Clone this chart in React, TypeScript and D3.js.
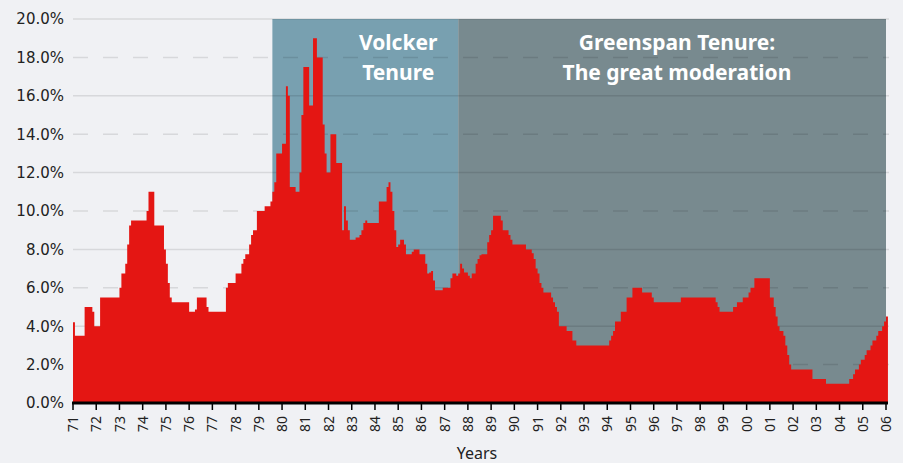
import React from "react";
import * as d3 from "d3";

const changeDates = [
  "1971-01","1971-02","1971-07","1971-11","1971-12","1972-03","1973-01","1973-02","1973-04","1973-05","1973-06","1973-07",
  "1974-03","1974-04","1974-07","1974-12","1975-01","1975-02","1975-03","1975-04","1976-01","1976-04","1976-05","1976-10","1976-11",
  "1977-08","1977-09","1978-01","1978-04","1978-05","1978-06","1978-08","1978-09","1978-10","1978-12",
  "1979-04","1979-07","1979-08","1979-09","1979-10","1980-01","1980-03","1980-04","1980-05","1980-08","1980-10","1980-11","1980-12",
  "1981-03","1981-05","1981-07","1981-10","1981-11","1981-12","1982-02","1982-05","1982-08","1982-09","1982-10","1982-11","1982-12",
  "1983-03","1983-05","1983-06","1983-07","1983-08","1983-09","1984-03","1984-07","1984-08","1984-09","1984-10","1984-11","1984-12",
  "1985-01","1985-02","1985-04","1985-05","1985-08","1985-09","1985-12","1986-03","1986-04","1986-05","1986-06","1986-07","1986-08","1986-12",
  "1987-04","1987-05","1987-07","1987-08","1987-09","1987-10","1987-11","1988-01","1988-02","1988-03","1988-05","1988-06","1988-07","1988-08",
  "1988-11","1988-12","1989-01","1989-02","1989-06","1989-07","1989-10","1989-11","1989-12","1990-07","1990-10","1990-11","1990-12",
  "1991-01","1991-02","1991-03","1991-04","1991-08","1991-09","1991-10","1991-11","1991-12","1992-04","1992-07","1992-09",
  "1994-02","1994-03","1994-04","1994-05","1994-08","1994-11","1995-02","1995-07","1995-12","1996-01","1997-03",
  "1998-09","1998-10","1998-11","1999-06","1999-08","1999-11","2000-02","2000-03","2000-05",
  "2001-01","2001-03","2001-04","2001-05","2001-06","2001-08","2001-09","2001-10","2001-11","2001-12","2002-11","2003-06",
  "2004-06","2004-08","2004-09","2004-11","2004-12","2005-02","2005-03","2005-05","2005-06","2005-08","2005-09","2005-11","2005-12","2006-01"
];

const rates = [
  4.2,3.5,5.0,4.75,4.0,5.5,6.0,6.75,7.25,8.25,9.25,9.5,
  10.0,11.0,9.25,8.0,7.25,6.25,5.5,5.25,4.75,4.875,5.5,5.0,4.75,
  6.0,6.25,6.75,7.25,7.5,7.75,8.25,8.75,9.0,10.0,
  10.25,10.5,11.0,11.5,13.0,13.5,16.5,16.0,11.25,11.0,12.0,15.0,17.5,
  15.5,19.0,18.0,14.5,13.0,12.0,14.0,12.5,9.0,10.25,9.5,9.0,8.5,
  8.625,8.75,9.0,9.375,9.5,9.375,10.5,11.25,11.5,11.0,10.0,9.0,8.125,
  8.25,8.5,8.25,7.75,7.875,8.0,7.75,7.25,6.75,6.8,6.875,6.375,5.875,6.0,
  6.5,6.75,6.625,6.75,7.25,7.0,6.8,6.625,6.5,6.75,7.25,7.5,7.7,7.75,
  8.375,8.75,9.0,9.75,9.5,9.0,8.75,8.5,8.25,8.0,7.8,7.5,7.0,
  6.75,6.25,6.0,5.75,5.5,5.25,5.0,4.75,4.0,3.75,3.25,3.0,
  3.25,3.5,3.75,4.25,4.75,5.5,6.0,5.75,5.5,5.25,5.5,
  5.25,5.0,4.75,5.0,5.25,5.5,5.75,6.0,6.5,
  5.5,5.0,4.5,4.0,3.75,3.5,3.0,2.5,2.0,1.75,1.25,1.0,
  1.25,1.5,1.75,2.0,2.25,2.5,2.75,3.0,3.25,3.5,3.75,4.0,4.25,4.5
];

const dataEnd = "2006-02";

const tenures = [
  { label: ["Volcker", "Tenure"], start: "1979-08", end: "1987-08", color: "#78a0b0", labelX: "1985-01" },
  { label: ["Greenspan Tenure:", "The great moderation"], start: "1987-08", end: "2006-01", color: "#788a8f", labelX: "1997-01" },
];

const yTicks = [0, 2, 4, 6, 8, 10, 12, 14, 16, 18, 20];
const xTickLabels = ["71","72","73","74","75","76","77","78","79","80","81","82","83","84","85","86","87","88","89","90","91","92","93","94","95","96","97","98","99","00","01","02","03","04","05","06"];

const monthIndex = (s: string) => {
  const [y, m] = s.split("-").map(Number);
  return (y - 1971) * 12 + (m - 1);
};

const W = 903, H = 463;
const left = 73, right = 886, top = 19, bottom = 403;
const FONT = "'Noto Sans', 'Open Sans', sans-serif";
const TICKFONT = "'DejaVu Sans', 'Noto Sans', sans-serif";

export default function App() {
  const x = d3.scaleLinear().domain([0, 420]).range([left, right]);
  const y = d3.scaleLinear().domain([0, 20]).range([bottom, top]);

  const pts: [number, number][] = changeDates.map((d, i) => [monthIndex(d), rates[i]]);
  pts.push([monthIndex(dataEnd), rates[rates.length - 1]]);

  const area = d3.area<[number, number]>()
    .x((d) => x(d[0]))
    .y0(y(0))
    .y1((d) => y(d[1]))
    .curve(d3.curveStepAfter);

  const gridRight = 889;

  return (
    <svg width={W} height={H} style={{ position: "absolute", left: 0, top: 0 }} fontFamily={FONT}>
      <rect x={0} y={0} width={W} height={H} fill="#f0f1f4" />
      {tenures.map((t, i) => (
        <rect key={i} x={x(monthIndex(t.start))} y={y(20)} width={x(monthIndex(t.end)) - x(monthIndex(t.start))} height={y(0) - y(20)} fill={t.color} />
      ))}
      {yTicks.filter((v) => v > 0).map((v) => (
        <line key={v} x1={left} x2={gridRight} y1={y(v)} y2={y(v)} stroke="rgba(0,0,0,0.1)" strokeWidth={1.5}
          strokeDasharray={v % 4 === 2 ? "15,15" : undefined} />
      ))}
      <path d={area(pts) || ""} fill="#e41613" />
      {tenures.map((t, i) => (
        <text key={i} x={x(monthIndex(t.labelX))} y={50} fill="#ffffff" fontSize={21} fontWeight="bold" textAnchor="middle">
          {t.label.map((l, j) => (
            <tspan key={j} x={x(monthIndex(t.labelX))} dy={j === 0 ? 0 : 30}>{l}</tspan>
          ))}
        </text>
      ))}
      {yTicks.map((v) => (
        <text key={v} x={64} y={y(v)} dy="0.36em" textAnchor="end" fontSize={15} fill="#222" fontFamily={TICKFONT}>{v.toFixed(1) + "%"}</text>
      ))}
      <line x1={left - 1} x2={gridRight - 1} y1={bottom} y2={bottom} stroke="#000" strokeWidth={3} />
      {xTickLabels.map((l, i) => (
        <g key={l} transform={`translate(${x(i * 12)},0)`}>
          <line y1={bottom} y2={bottom + 7} stroke="#000" strokeWidth={1.5} />
          <text transform={`translate(0,${bottom + 13}) rotate(-90)`} textAnchor="end" dy="0.36em" fontSize={14} fill="#222">{l}</text>
        </g>
      ))}
      <text x={477} y={459} textAnchor="middle" fontSize={16} fill="#222">Years</text>
    </svg>
  );
}
